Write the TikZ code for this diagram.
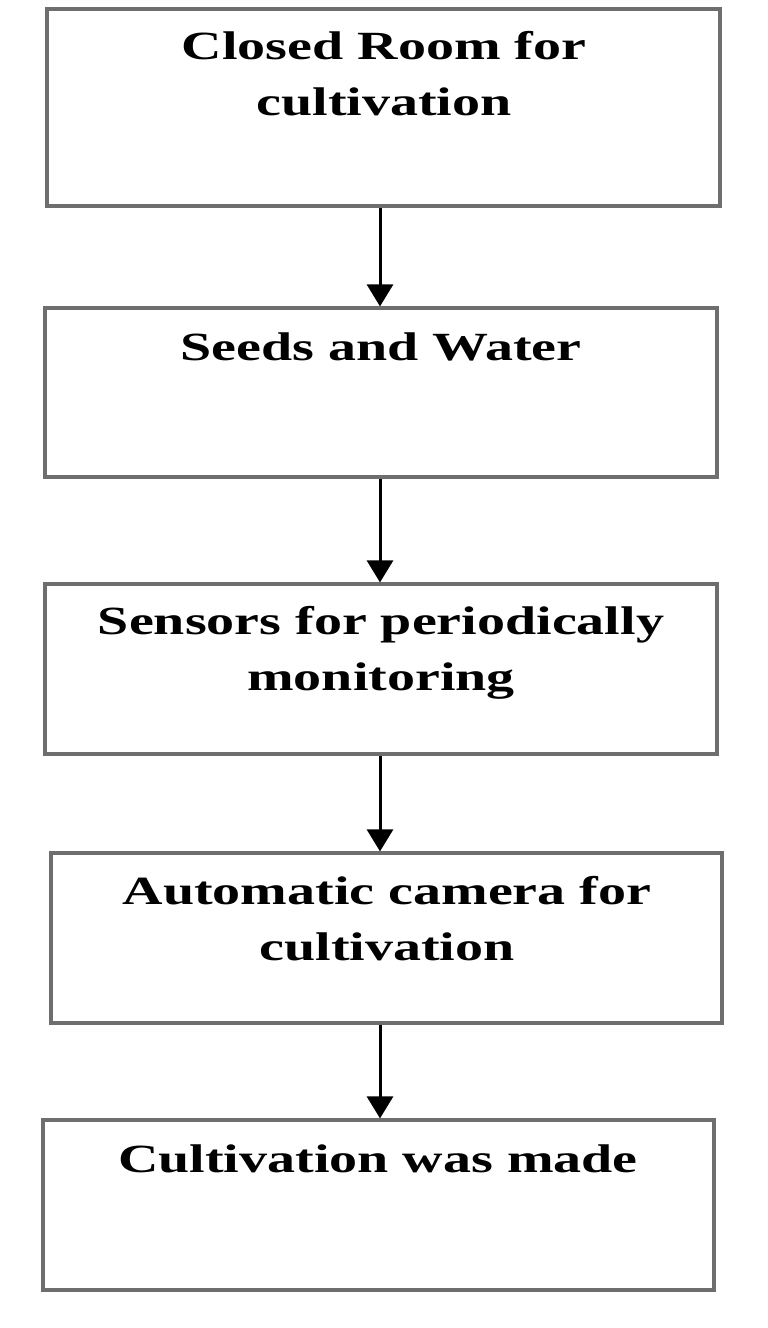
\documentclass[tikz,border=0pt]{standalone}
\usepackage{fontspec}
\setmainfont{Liberation Serif}
\usetikzlibrary{arrows.meta}
\definecolor{boxgray}{RGB}{110,110,110}
\tikzset{
  stepbox/.style={draw=boxgray, line width=3.2pt, fill=white, inner sep=0pt},
  steptext/.style={anchor=north, inner sep=0pt, align=center,
    font=\fontsize{40}{56}\selectfont\bfseries},
  flowarrow/.style={draw=black, line width=3pt, -{Triangle[width=26pt,length=22pt]}}
}
\newcommand{\wide}[1]{\scalebox{1.4}[1]{#1}}
\begin{document}
\begin{tikzpicture}[x=1pt,y=-1pt]
\useasboundingbox (0,0) rectangle (768,1328);
\fill[white] (0,0) rectangle (768,1328);
% boxes
\node[stepbox, minimum width=673pt, minimum height=197pt] (b1) at (383.5,107.5) {};
\node[stepbox, minimum width=672pt, minimum height=169pt] (b2) at (381,392.5) {};
\node[stepbox, minimum width=672pt, minimum height=170pt] (b3) at (381,669) {};
\node[stepbox, minimum width=671pt, minimum height=170pt] (b4) at (386.5,938) {};
\node[stepbox, minimum width=671pt, minimum height=170pt] (b5) at (378.5,1205) {};
% texts
\node[steptext] (t1) at ([yshift=-24pt]b1.north -| 384,0) {\wide{Closed Room for}\\\wide{cultivation}};
\node[steptext] (t2) at ([yshift=-26pt]b2.north -| 381,0) {\wide{Seeds and Water}};
\node[steptext] (t3) at ([yshift=-24pt]b3.north -| 381,0) {\wide{Sensors for periodically}\\\wide{monitoring}};
\node[steptext] (t4) at ([yshift=-25pt]b4.north -| 387,0) {\wide{Automatic camera for}\\\wide{cultivation}};
\node[steptext] (t5) at ([yshift=-26pt]b5.north -| 378,0) {\wide{Cultivation was made}};
% arrows
\coordinate (ax) at (380,0);
\draw[flowarrow] (b1.south -| ax) -- (b2.north -| ax);
\draw[flowarrow] (b2.south -| ax) -- (b3.north -| ax);
\draw[flowarrow] (b3.south -| ax) -- (b4.north -| ax);
\draw[flowarrow] (b4.south -| ax) -- (b5.north -| ax);
\end{tikzpicture}
\end{document}
